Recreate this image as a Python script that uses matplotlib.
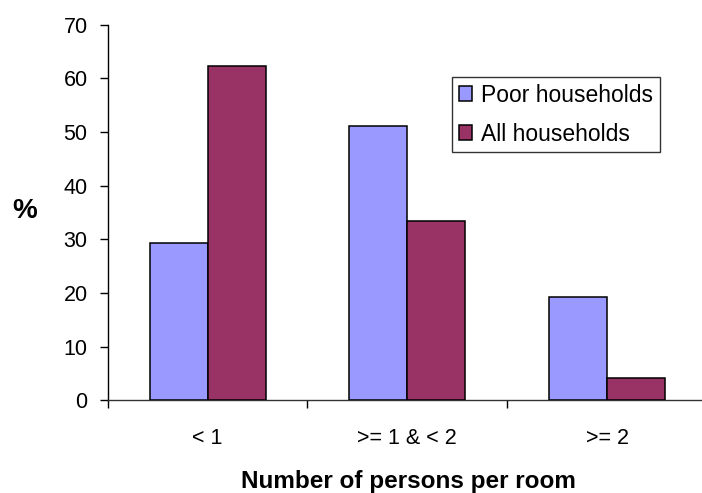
import matplotlib
matplotlib.use("Agg")
import matplotlib.pyplot as plt
import numpy as np

plt.rcParams['font.family'] = ['Liberation Sans', 'DejaVu Sans']

categories = ["< 1", ">= 1 & < 2", ">= 2"]
poor_households = [29.4, 51.1, 19.2]
all_households = [62.3, 33.5, 4.1]
series_names = ["Poor households", "All households"]
y_ticks = [0, 10, 20, 30, 40, 50, 60, 70]

W, H = 702, 493
fig = plt.figure(figsize=(W / 100, H / 100), dpi=100)

# plot area in pixel terms
left_px, right_px = 107.7, 707.0
bottom_px, top_px = 400.3, 24.7
ax = fig.add_axes([left_px / W, (H - bottom_px) / H,
                   (right_px - left_px) / W, (bottom_px - top_px) / H])

x = np.arange(len(categories))
bw = 0.29
ax.bar(x - bw / 2, poor_households, bw, color="#9999FF", edgecolor="black",
       linewidth=1.1, label=series_names[0], zorder=3)
ax.bar(x + bw / 2, all_households, bw, color="#993366", edgecolor="black",
       linewidth=1.1, label=series_names[1], zorder=3)

ax.set_xlim(-0.5, len(categories) - 0.5)
ax.set_ylim(0, 70)

for s in ["top", "right"]:
    ax.spines[s].set_visible(False)
ax.spines["bottom"].set_color("#333333")
ax.spines["left"].set_color("black")
for s in ["left", "bottom"]:
    ax.spines[s].set_linewidth(1.0)

ax.set_yticks(y_ticks)
ax.set_yticklabels([str(v) for v in y_ticks])
ax.tick_params(axis="y", direction="out", length=5.5, width=1.0, pad=9,
               labelsize=15.5, colors="black")

ax.set_xticks(x)
ax.set_xticklabels(categories)
ax.set_xticks(np.arange(-0.5, len(categories) + 0.5, 1.0), minor=True)
ax.tick_params(axis="x", which="major", length=0, pad=20, labelsize=15.5)
ax.tick_params(axis="x", which="minor", direction="out", length=5.5, width=1.0)

fig.text(25 / W, 1 - 211 / H, "%", fontsize=20, fontweight="bold",
         ha="center", va="center")
fig.text(408 / W, 5 / H, "Number of persons per room", fontsize=17.5,
         fontweight="bold", ha="center", va="baseline")

leg = ax.legend(loc="upper left",
                bbox_to_anchor=(451.7 / W, 1 - 76.7 / H),
                bbox_transform=fig.transFigure,
                fontsize=16.5, frameon=True, fancybox=False, shadow=False,
                handlelength=0.6, handleheight=0.6, handletextpad=0.4,
                labelspacing=0.7, borderpad=0.3, borderaxespad=0)
leg.get_frame().set_edgecolor("black")
leg.get_frame().set_linewidth(1.0)

fig.savefig("out.png", dpi=100)
